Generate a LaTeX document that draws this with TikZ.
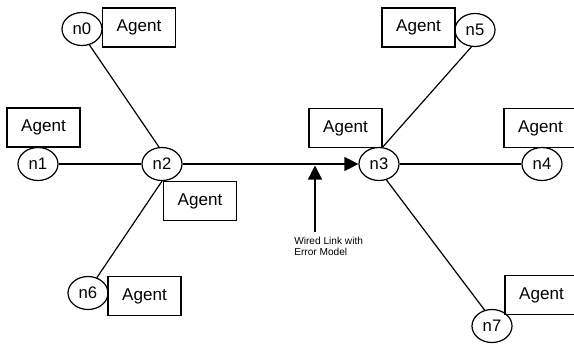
\documentclass[tikz,border=0pt]{standalone}
\usepackage{fontspec}
\setmainfont{Liberation Sans}
\usepackage{tikz}
\usetikzlibrary{arrows.meta,shapes.geometric}

\begin{document}
\begin{tikzpicture}[
  x=0.75pt, y=-0.75pt,
  host/.style={draw, ellipse, line width=0.9pt, minimum width=30pt, minimum height=24.75pt, inner sep=0pt, font=\fontsize{12.5}{14}\selectfont},
  agent/.style={draw, line width=0.9pt, minimum width=54.75pt, minimum height=29.25pt, inner sep=0pt, font=\fontsize{12.8}{14}\selectfont},
  link/.style={line width=0.9pt},
  arr/.style={line width=0.9pt, -{Triangle[length=10.5pt,width=10.5pt]}},
]
\useasboundingbox (0,0) rectangle (574,343);
% hosts
\node[host] (n0) at (82,29)   {n0};
\node[host] (n1) at (38,164)  {n1};
\node[host] (n2) at (162,164) {n2};
\node[host] (n3) at (379,164) {n3};
\node[host] (n4) at (542,164) {n4};
\node[host] (n5) at (475,30)  {n5};
\node[host] (n6) at (88,293)  {n6};
\node[host] (n7) at (492,326) {n7};
% agents attached to the hosts
\node[agent] (a0) at (139,27.5)  {Agent};
\node[agent] (a1) at (43.5,127.5) {Agent};
\node[agent] (a2) at (200,201)   {Agent};
\node[agent] (a3) at (345.5,128) {Agent};
\node[agent] (a4) at (540.5,128) {Agent};
\node[agent] (a5) at (418.5,27.5) {Agent};
\node[agent] (a6) at (144.5,296) {Agent};
\node[agent] (a7) at (541.5,295) {Agent};
% links
\draw[link] (n0.-65) -- (n2.100);
\draw[link] (n1) -- (n2);
\draw[link] (n2.south) -- (n6.60);
\draw[arr] (n2) -- (n3);
\draw[link] (n3) -- (n4);
\draw[link] (n3.78) -- (n5.258);
\draw[link] (n3.-65) -- (n7.115);
% error model on the n2-n3 link
\coordinate (tap) at (315,165.5);
\node[anchor=north west, inner sep=0pt, align=left, font=\fontsize{7.6}{8.4}\selectfont] (lbl) at (294,236.5) {Wired Link with\\Error Model};
\draw[arr] ([yshift=3.5pt]lbl.north -| tap) -- (tap);
\end{tikzpicture}
\end{document}
